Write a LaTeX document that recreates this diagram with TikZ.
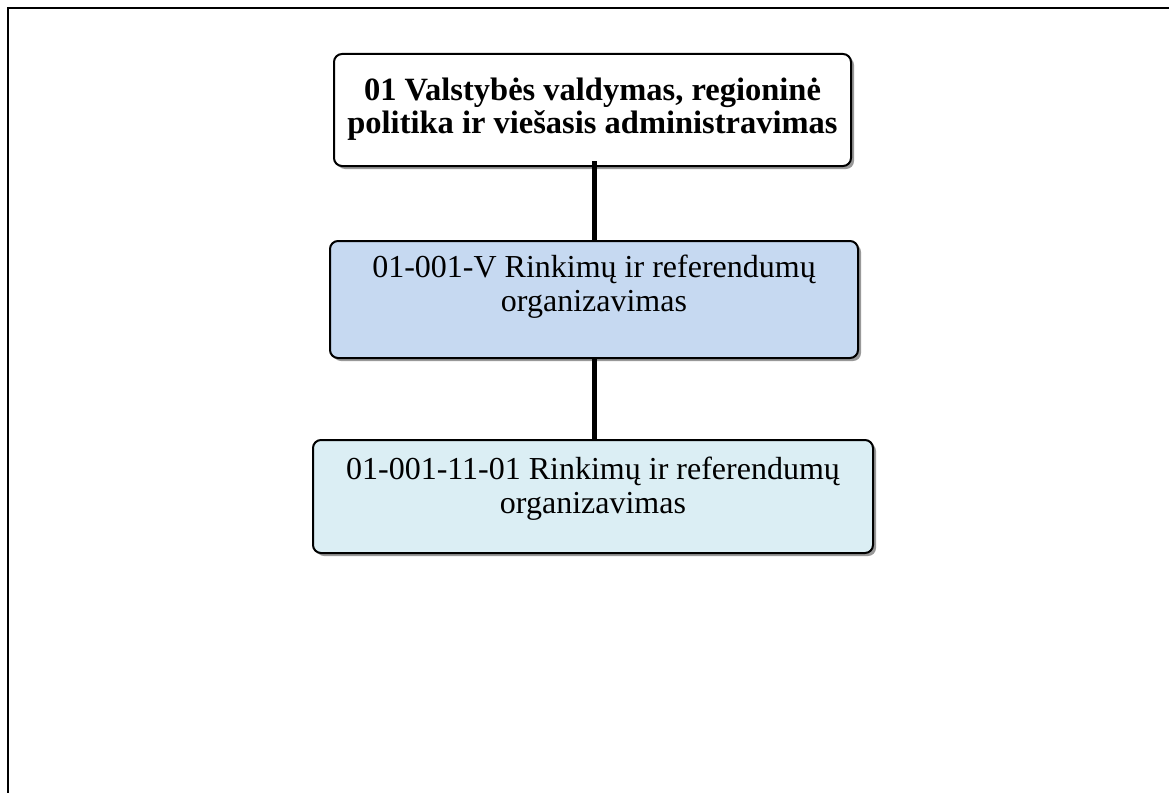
\documentclass[tikz,border=0pt]{standalone}
\usepackage{fontspec}
\setmainfont{Liberation Serif}
\usetikzlibrary{shadows}
\definecolor{boxblue}{HTML}{C6D9F1}
\definecolor{boxcyan}{HTML}{DBEEF4}
\tikzset{
  orgbox/.style={draw=black, line width=2pt, rounded corners=8pt,
    drop shadow={shadow xshift=3pt, shadow yshift=-3pt, fill=black!40, opacity=1},
    inner sep=0pt},
  boxtext/.style={align=center, font=\fontsize{32}{34}\selectfont},
  headtext/.style={align=center, font=\fontsize{32.5}{33}\selectfont\bfseries},
  link/.style={line width=5pt, black}
}
\begin{document}
\begin{tikzpicture}[x=1pt,y=-1pt]
\useasboundingbox (0,0) rectangle (1169,792);
\fill[white] (0,0) rectangle (1169,792);
\draw[line width=2pt] (7.5,800) -- (7.5,8.5) -- (1175,8.5);
\node[orgbox, fill=white, minimum width=517pt, minimum height=112pt,
  label={[headtext, yshift=1pt]center:01 Valstybės valdymas, regioninė\\politika ir viešasis administravimas}]
  (b1) at (592.5,110) {};
\node[orgbox, fill=boxblue, minimum width=528pt, minimum height=117pt,
  label={[boxtext, yshift=12.5pt]center:01-001-V Rinkimų ir referendumų\\organizavimas}]
  (b2) at (594,299.5) {};
\node[orgbox, fill=boxcyan, minimum width=560pt, minimum height=113pt,
  label={[boxtext, yshift=7.5pt]center:01-001-11-01 Rinkimų ir referendumų\\organizavimas}]
  (b3) at (593,496.5) {};
\coordinate (c1) at ([yshift=6pt]b1.south);
\draw[link] (c1 -| 594,0) -- (b2.north -| 594,0);
\draw[link] (b2.south -| 594,0) -- (b3.north -| 594,0);
\end{tikzpicture}
\end{document}
